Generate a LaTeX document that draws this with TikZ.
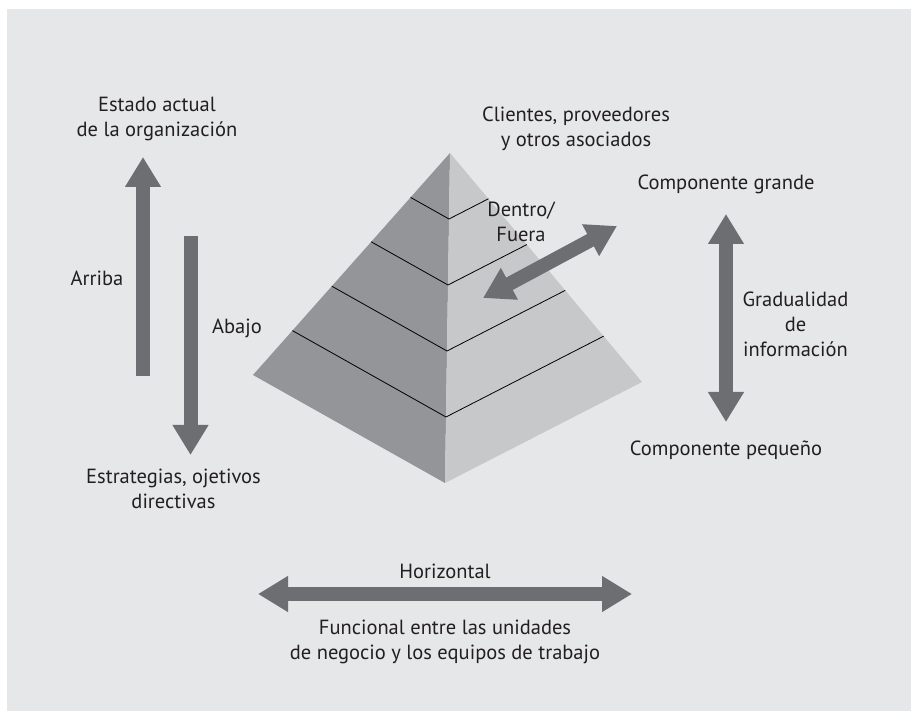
\documentclass[tikz,border=0pt]{standalone}
\usepackage{fontspec}
\setmainfont{PT Sans}
\usepackage{tikz}
\usetikzlibrary{
    arrows.meta,
    calc,
    positioning
}
\definecolor{panel}{RGB}{230,231,232}
\definecolor{leftface}{RGB}{147,149,152}
\definecolor{rightface}{RGB}{199,200,202}
\definecolor{flow}{RGB}{109,110,113}
\definecolor{ink}{RGB}{35,31,32}

\begin{document}
\begin{tikzpicture}[x=1pt, y=-1pt,
    label/.style={font=\fontsize{20.5}{25}\selectfont, text=ink, align=center, anchor=base, inner sep=0pt},
    bigarrow/.style={line width=14pt, draw=flow, -{Triangle[length=30pt, width=34pt]}},
    bigboth/.style={line width=14pt, draw=flow, {Triangle[length=30pt, width=34pt]}-{Triangle[length=30pt, width=34pt]}}]
    % Background
    \useasboundingbox (0,0) rectangle (911,711);
    \fill[panel] (7,9) rectangle (911,711);

    % === Pyramid ===
    \coordinate (apex) at (450,153);
    \coordinate (left) at (253,375);
    \coordinate (right) at (642,382);
    \coordinate (bottom) at (445,483);
    \fill[leftface] (apex) -- (left) -- (bottom) -- cycle;
    \fill[rightface] (apex) -- (bottom) -- (right) -- cycle;

    % Layers
    \foreach \f in {0.2,0.4,0.6,0.8}
        \draw[black, line width=0.8pt] ($(apex)!\f!(left)$) -- ($(apex)!\f!(bottom)$) -- ($(apex)!\f!(right)$);

    % === Labels (base = last line) ===
    \node[label] (estado) at (157,137) {Estado actual\\de la organización};
    \node[label] (arriba) at (97,286) {Arriba};
    \node[label] (abajo) at (237,334) {Abajo};
    \node[label] (estrategias) at (173.5,508) {Estrategias, ojetivos\\directivas};
    \node[label] (clientes) at (576,147) {Clientes, proveedores\\y otros asociados};
    \node[label] (dentro) at (521,242) {Dentro/\\Fuera};
    \node[label] (grande) at (726,190) {Componente grande};
    \node[label] (gradual) at (795.5,357) {Gradualidad\\de\\información};
    \node[label] (pequeno) at (726,455) {Componente pequeño};
    \node[label] (horiz) at (445,578) {Horizontal};
    \node[label] (funcional) at (445,659) {Funcional entre las unidades\\de negocio y los equipos de trabajo};

    % === Arrows ===
    \coordinate (up-s) at (143,376);
    \coordinate (up-e) at (143,157);
    \coordinate (down-s) at (190.5,236);
    \coordinate (down-e) at (190.5,455);
    \coordinate (io-a) at (483,298);
    \coordinate (io-b) at (617,226);
    \coordinate (size-a) at (726,214);
    \coordinate (size-b) at (726,422);
    \coordinate (hor-a) at (258,594);
    \coordinate (hor-b) at (632,594);

    \draw[bigarrow] (up-s) -- (up-e);
    \draw[bigarrow] (down-s) -- (down-e);
    \draw[bigboth] (io-a) -- (io-b);
    \draw[bigboth] (size-a) -- (size-b);
    \draw[bigboth] (hor-a) -- (hor-b);
\end{tikzpicture}
\end{document}
